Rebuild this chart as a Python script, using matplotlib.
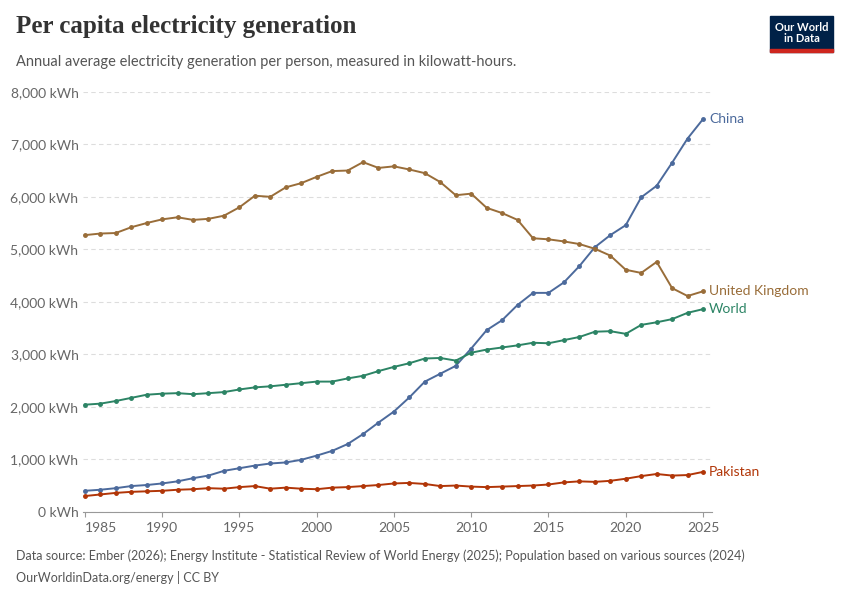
import matplotlib.pyplot as plt
from matplotlib.ticker import FuncFormatter

years = list(range(1985, 2026))
china = [400, 420, 450, 490, 510, 540, 580, 640, 690, 780, 830, 880, 920, 940, 990, 1070, 1160, 1290, 1480, 1700,
         1910, 2180, 2480, 2630, 2780, 3110, 3460, 3650, 3940, 4170, 4170, 4370, 4680, 5040, 5270, 5460, 5990, 6210,
         6650, 7110, 7480]
uk = [5270, 5300, 5310, 5420, 5500, 5570, 5610, 5560, 5580, 5640, 5800, 6020, 6000, 6180, 6260, 6380, 6490, 6500,
      6660, 6550, 6580, 6520, 6450, 6280, 6030, 6060, 5790, 5690, 5560, 5210, 5190, 5150, 5100, 5010, 4880, 4610,
      4550, 4760, 4260, 4110, 4200]
world = [2040, 2060, 2110, 2170, 2230, 2250, 2260, 2240, 2260, 2280, 2330, 2370, 2390, 2420, 2450, 2480, 2480, 2540,
         2590, 2680, 2760, 2830, 2920, 2930, 2880, 3030, 3090, 3130, 3170, 3220, 3210, 3270, 3330, 3430, 3440, 3390,
         3560, 3610, 3670, 3790, 3860]
pakistan = [300, 330, 360, 380, 390, 400, 420, 430, 450, 440, 470, 490, 440, 460, 440, 430, 460, 470, 490, 510, 540,
            550, 530, 490, 500, 480, 470, 480, 490, 500, 520, 560, 580, 570, 590, 630, 680, 720, 690, 700, 760]

series = [("China", china, "#4c6a9c"), ("United Kingdom", uk, "#996d39"),
          ("World", world, "#2c8465"), ("Pakistan", pakistan, "#b13507")]
label_y = {"China": 7480, "United Kingdom": 4200, "World": 3860, "Pakistan": 760}

plt.rcParams['font.family'] = ['Lato', 'DejaVu Sans']
fig = plt.figure(figsize=(8.5, 6), dpi=100)
ax = fig.add_axes([0.098, 0.147, 0.74, 0.70])

for name, vals, col in series:
    ax.plot(years, vals, color=col, lw=1.4, marker='o', ms=2.5)
    ax.text(2025.4, label_y[name], name, color=col, fontsize=10, va='center')

ax.set_xlim(1984.9, 2025.6)
ax.set_ylim(0, 8000)
ax.set_yticks(range(0, 8001, 1000))
ax.set_xticks([1985, 1990, 1995, 2000, 2005, 2010, 2015, 2020, 2025])
ax.yaxis.set_major_formatter(FuncFormatter(lambda v, p: f"{int(v):,} kWh"))
ax.grid(axis='y', color='#dddddd', ls=(0, (4, 3)), lw=0.8)
for s in ['top', 'right', 'left']:
    ax.spines[s].set_visible(False)
ax.spines['bottom'].set_color('#999999')
ax.tick_params(axis='y', length=0, labelsize=10, colors='#666666')
ax.tick_params(axis='x', labelsize=10, colors='#666666', color='#999999')
ax.get_xticklabels()[0].set_ha('left')

fig.text(0.019, 0.945, "Per capita electricity generation", fontsize=18, fontweight='bold',
         family=['Liberation Serif', 'DejaVu Serif'], color='#333333')
fig.text(0.019, 0.89, "Annual average electricity generation per person, measured in kilowatt-hours.",
         fontsize=10.5, color='#555555')
fig.text(0.019, 0.067, "Data source: Ember (2026); Energy Institute - Statistical Review of World Energy (2025); "
         "Population based on various sources (2024)", fontsize=9, color='#555555')
fig.text(0.019, 0.03, "OurWorldinData.org/energy | CC BY", fontsize=9, color='#555555')

fig.patches.append(plt.Rectangle((0.906, 0.913), 0.074, 0.06, transform=fig.transFigure,
                                 color='#002147'))
fig.patches.append(plt.Rectangle((0.906, 0.913), 0.074, 0.005, transform=fig.transFigure,
                                 color='#ce261e'))
fig.text(0.943, 0.945, "Our World\nin Data", color='white', fontsize=8, fontweight='bold',
         ha='center', va='center', linespacing=1.0)

fig.savefig("out.png")
